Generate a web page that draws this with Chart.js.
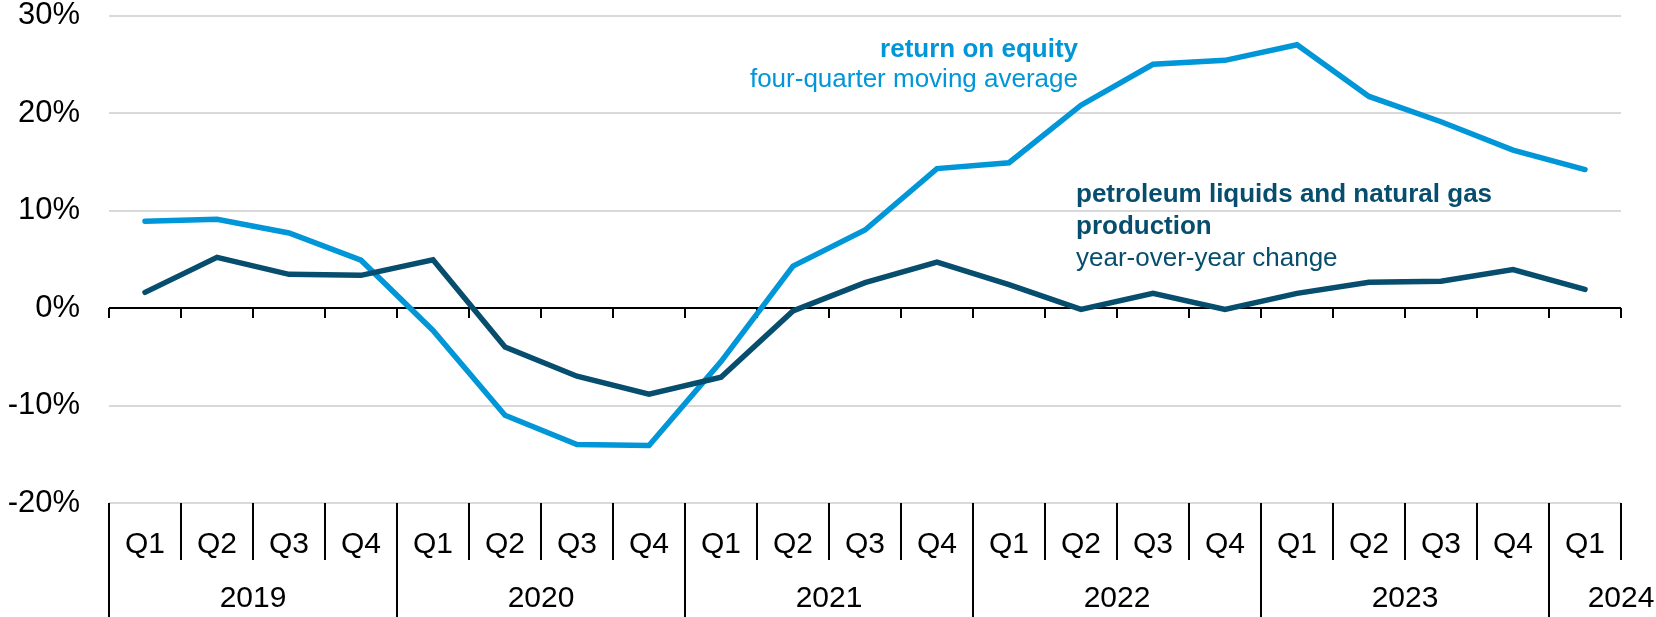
<!DOCTYPE html>
<html>
<head>
<meta charset="utf-8">
<style>
  html, body { margin: 0; padding: 0; background: #ffffff; }
  #wrap { width: 1656px; height: 617px; position: relative; }
</style>
<script src="https://cdn.jsdelivr.net/npm/chart.js@4.4.1/dist/chart.umd.min.js"></script>
</head>
<body>
<div id="wrap"><canvas id="c" width="1656" height="617"></canvas></div>
<script>
// ---- data ----
const quarters = ['Q1','Q2','Q3','Q4','Q1','Q2','Q3','Q4','Q1','Q2','Q3','Q4','Q1','Q2','Q3','Q4','Q1','Q2','Q3','Q4','Q1'];
const years    = ['2019','2019','2019','2019','2020','2020','2020','2020','2021','2021','2021','2021','2022','2022','2022','2022','2023','2023','2023','2023','2024'];
const returnOnEquity   = [8.9, 9.1, 7.7, 4.9, -2.3, -11.0, -14.0, -14.1, -5.5, 4.3, 8.0, 14.3, 14.9, 20.8, 25.0, 25.4, 27.0, 21.7, 19.1, 16.2, 14.2];
const productionChange = [1.6, 5.2, 3.45, 3.35, 4.95, -4.0, -7.0, -8.85, -7.1, -0.3, 2.6, 4.7, 2.4, -0.15, 1.5, -0.15, 1.5, 2.65, 2.75, 3.95, 1.9];
const yMin = -20, yMax = 30, yStep = 10;

const LIGHT = '#0096D7';
const DARK  = '#064D6E';
const FONT  = '"Liberation Sans", Arial, Helvetica, sans-serif';

function boundaries(x) {
  const n = x.getLabels().length;
  const step = x.getPixelForValue(1) - x.getPixelForValue(0);
  const first = x.getPixelForValue(0) - step / 2;
  const arr = [];
  for (let i = 0; i <= n; i++) arr.push(first + i * step);
  return arr;
}

const decor = {
  id: 'decor',
  beforeDatasetsDraw(chart) {
    const { ctx, scales: { x, y } } = chart;
    const y0 = y.getPixelForValue(0);
    ctx.save();
    ctx.strokeStyle = '#000';
    ctx.lineWidth = 2;
    boundaries(x).forEach(px => {
      ctx.beginPath(); ctx.moveTo(px, y0); ctx.lineTo(px, y0 + 10); ctx.stroke();
    });
    ctx.restore();
  },
  afterDraw(chart) {
    const { ctx, chartArea, scales: { x } } = chart;
    const b = boundaries(x);
    const top = chartArea.bottom;
    const H = chart.height;
    ctx.save();
    ctx.strokeStyle = '#000';
    ctx.lineWidth = 2;
    for (let i = 0; i < b.length; i++) {
      const isYear = i < years.length && (i === 0 || years[i] !== years[i - 1]);
      ctx.beginPath();
      ctx.moveTo(b[i], top);
      ctx.lineTo(b[i], isYear ? H : 560);
      ctx.stroke();
    }
    // quarter labels
    ctx.fillStyle = '#000';
    ctx.font = '30px ' + FONT;
    ctx.textAlign = 'center';
    ctx.textBaseline = 'alphabetic';
    quarters.forEach((q, i) => ctx.fillText(q, x.getPixelForValue(i), 552.5));
    // year labels
    let start = 0;
    for (let i = 1; i <= years.length; i++) {
      if (i === years.length || years[i] !== years[start]) {
        const count = i - start;
        const cx = count < 4 ? b[i] : (b[start] + b[i]) / 2;
        ctx.fillText(years[start], cx, 606.5);
        start = i;
      }
    }
    // annotations
    ctx.textAlign = 'right';
    ctx.fillStyle = LIGHT;
    ctx.font = 'bold 26px ' + FONT;
    ctx.fillText('return on equity', 1078, 57);
    ctx.font = '26px ' + FONT;
    ctx.fillText('four-quarter moving average', 1078, 87);
    ctx.textAlign = 'left';
    ctx.fillStyle = DARK;
    ctx.font = 'bold 26px ' + FONT;
    ctx.fillText('petroleum liquids and natural gas', 1076, 202);
    ctx.fillText('production', 1076, 234);
    ctx.font = '26px ' + FONT;
    ctx.fillText('year-over-year change', 1076, 266);
    ctx.restore();
  }
};

new Chart(document.getElementById('c'), {
  type: 'line',
  data: {
    labels: years.map((yr, i) => yr + ' ' + quarters[i]),
    datasets: [
      { label: 'petroleum liquids and natural gas production', data: productionChange,
        borderColor: DARK, borderWidth: 5.5, pointRadius: 0, tension: 0, borderCapStyle: 'round', fill: false },
      { label: 'return on equity', data: returnOnEquity,
        borderColor: LIGHT, borderWidth: 5.5, pointRadius: 0, tension: 0, borderCapStyle: 'round', fill: false }
    ]
  },
  options: {
    responsive: false,
    devicePixelRatio: 1,
    animation: false,
    layout: { padding: { left: 0, right: 35, top: 0, bottom: 0 } },
    plugins: { legend: { display: false }, tooltip: { enabled: false } },
    scales: {
      x: {
        type: 'category',
        offset: true,
        grid: { display: false, drawTicks: false },
        border: { display: false },
        ticks: { display: false },
        afterFit(s) { s.height = 114; }
      },
      y: {
        min: yMin, max: yMax,
        ticks: {
          stepSize: yStep,
          padding: 0,
          color: '#000',
          font: { family: FONT, size: 31, lineHeight: 1.0 },
          callback: v => v + '%'
        },
        grid: {
          drawTicks: true,
          tickLength: 29,
          tickColor: 'rgba(0,0,0,0)',
          lineWidth: 2,
          color: c => (c.tick && c.tick.value === 0) ? '#000000' : '#d9d9d9'
        },
        border: { display: false },
        afterFit(s) { s.width = 109; }
      }
    }
  },
  plugins: [decor]
});
</script>
</body>
</html>
